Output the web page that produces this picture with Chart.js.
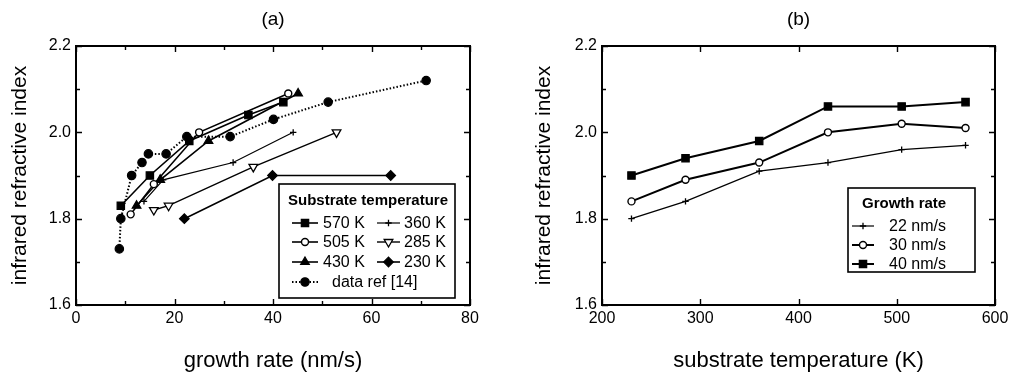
<!DOCTYPE html>
<html><head><meta charset="utf-8">
<script src="https://cdn.jsdelivr.net/npm/chart.js@4.4.1/dist/chart.umd.min.js"></script>
<style>
html,body{margin:0;padding:0;background:#fff;width:1013px;height:383px;overflow:hidden}
canvas{position:absolute;top:0}
#ca{left:0}
#cb{left:524px}
</style></head><body>
<canvas id="ca" width="524" height="383"></canvas>
<canvas id="cb" width="489" height="383"></canvas>
<script>
// ---------- Panel (a): refractive index vs growth rate ----------
const rate570 = [9.1, 15.0, 23.0, 35.0, 42.1];
const n570    = [1.83, 1.90, 1.98, 2.04, 2.07];
const rate505 = [11.1, 15.8, 25.0, 43.1];
const n505    = [1.81, 1.88, 2.00, 2.09];
const rate430 = [12.3, 17.1, 26.9, 45.1];
const n430    = [1.83, 1.89, 1.98, 2.09];
const rate360 = [13.8, 17.7, 31.9, 44.1];
const n360    = [1.84, 1.89, 1.93, 2.00];
const rate285 = [15.8, 18.8, 36.0, 52.9];
const n285    = [1.82, 1.83, 1.92, 2.00];
const rate230 = [22.0, 39.9, 63.9];
const n230    = [1.80, 1.90, 1.90];
const rateRef = [8.8, 9.1, 11.3, 13.4, 14.7, 18.3, 22.5, 31.3, 40.1, 51.2, 71.1];
const nRef    = [1.73, 1.80, 1.90, 1.93, 1.95, 1.95, 1.99, 1.99, 2.03, 2.07, 2.12];
const labelsA = ['570 K', '505 K', '430 K', '360 K', '285 K', '230 K', 'data ref [14]'];
const xMinorA = [10, 30, 50, 70];

// ---------- Panel (b): refractive index vs substrate temperature ----------
const temps = [230, 285, 360, 430, 505, 570];
const n22 = [1.80, 1.84, 1.91, 1.93, 1.96, 1.97];
const n30 = [1.84, 1.89, 1.93, 2.00, 2.02, 2.01];
const n40 = [1.90, 1.94, 1.98, 2.06, 2.06, 2.07];
const labelsB = ['22 nm/s', '30 nm/s', '40 nm/s'];
const yMinor = [1.7, 1.9, 2.1];

const FONT = "'Liberation Sans', Arial, Helvetica, sans-serif";
Chart.defaults.font.family = FONT;
Chart.defaults.color = '#000';

const pts = (xs, ys) => xs.map((x, i) => ({x, y: ys[i]}));

function ds(label, xs, ys, st) {
  return Object.assign({
    label, data: pts(xs, ys), showLine: true, fill: false, tension: 0,
    borderColor: '#000', borderWidth: 1.6,
    pointBorderColor: '#000', pointBackgroundColor: '#000', pointBorderWidth: 1.2,
    pointRadius: 4, pointHoverRadius: 4
  }, st);
}

function drawMarker(ctx, d, x, y) {
  ctx.save();
  ctx.fillStyle = d.pointBackgroundColor;
  ctx.strokeStyle = d.pointBorderColor;
  ctx.lineWidth = d.pointBorderWidth;
  const o = {pointStyle: d.pointStyle || 'circle', radius: d.pointRadius, rotation: d.pointRotation || 0, borderWidth: d.pointBorderWidth};
  if (Chart.helpers && Chart.helpers.drawPoint) {
    Chart.helpers.drawPoint(ctx, o, x, y);
  } else {
    ctx.beginPath(); ctx.arc(x, y, d.pointRadius, 0, Math.PI * 2); ctx.fill(); ctx.stroke();
  }
  ctx.restore();
}

const framePlugin = {
  id: 'frame',
  afterDatasetsDraw(chart, args, opts) {
    const {ctx, chartArea: a, scales} = chart;
    const xs = scales.x, ys = scales.y;
    ctx.save();
    ctx.strokeStyle = '#000';
    ctx.lineWidth = 1.4;
    const vx = (vals, len) => vals.forEach(v => {
      const p = Math.round(xs.getPixelForValue(v)) + 0.5;
      ctx.beginPath(); ctx.moveTo(p, a.bottom); ctx.lineTo(p, a.bottom - len);
      ctx.moveTo(p, a.top); ctx.lineTo(p, a.top + len); ctx.stroke();
    });
    const vy = (vals, len) => vals.forEach(v => {
      const p = Math.round(ys.getPixelForValue(v)) + 0.5;
      ctx.beginPath(); ctx.moveTo(a.left, p); ctx.lineTo(a.left + len, p);
      ctx.moveTo(a.right, p); ctx.lineTo(a.right - len, p); ctx.stroke();
    });
    vx(xs.ticks.map(t => t.value), 6);
    vy(ys.ticks.map(t => t.value), 6);
    vx(opts.xMinor || [], 4);
    vy(opts.yMinor || [], 4);
    ctx.lineWidth = 2;
    ctx.strokeRect(a.left, a.top, a.right - a.left, a.bottom - a.top);
    // panel title
    ctx.fillStyle = '#000';
    ctx.font = '19px ' + FONT;
    ctx.textAlign = 'center'; ctx.textBaseline = 'middle';
    ctx.fillText(opts.title, (a.left + a.right) / 2, 20);
    ctx.restore();
  }
};

const boxLegendPlugin = {
  id: 'boxLegend',
  afterDraw(chart, args, o) {
    const {ctx} = chart;
    ctx.save();
    ctx.fillStyle = '#fff';
    ctx.fillRect(o.box[0], o.box[1], o.box[2], o.box[3]);
    ctx.strokeStyle = '#000'; ctx.lineWidth = 1.6;
    ctx.strokeRect(o.box[0], o.box[1], o.box[2], o.box[3]);
    ctx.fillStyle = '#000';
    ctx.font = 'bold 15px ' + FONT;
    ctx.textAlign = 'left'; ctx.textBaseline = 'middle';
    ctx.fillText(o.title, o.titleX, o.titleY);
    ctx.font = '16px ' + FONT;
    o.items.forEach(it => {
      const d = chart.data.datasets[it.i];
      ctx.save();
      ctx.strokeStyle = d.borderColor; ctx.lineWidth = d.borderWidth;
      ctx.setLineDash(d.borderDash || []);
      ctx.beginPath(); ctx.moveTo(it.x0, it.y); ctx.lineTo(it.x1, it.y); ctx.stroke();
      ctx.restore();
      drawMarker(ctx, d, (it.x0 + it.x1) / 2, it.y);
      ctx.fillStyle = '#000';
      ctx.fillText(d.label, it.tx, it.y + 1);
    });
    ctx.restore();
  }
};

function scalesFor(xmin, xmax, xstep, yWidth, xTitle) {
  return {
    x: {
      type: 'linear', min: xmin, max: xmax,
      ticks: {stepSize: xstep, font: {size: 16}, color: '#000', padding: 4, maxRotation: 0},
      grid: {display: false, drawTicks: false}, border: {display: false},
      title: {display: true, text: xTitle, font: {size: 22}, color: '#000', padding: {top: 0, bottom: 9}},
      afterFit(s) { s.height = 78; }
    },
    y: {
      type: 'linear', min: 1.6, max: 2.2,
      ticks: {stepSize: 0.2, font: {size: 16}, color: '#000', padding: 5, callback: v => Number(v).toFixed(1)},
      grid: {display: false, drawTicks: false}, border: {display: false},
      title: {display: true, text: 'infrared refractive index', font: {size: 21}, color: '#000', padding: {top: 8, bottom: 0}},
      afterFit(s) { s.width = yWidth; }
    }
  };
}

const circOpen = {pointStyle: 'circle', pointBackgroundColor: '#fff', pointRadius: 3.5, pointBorderWidth: 1.4};

new Chart(document.getElementById('ca'), {
  type: 'scatter',
  data: {datasets: [
    ds(labelsA[0], rate570, n570, {pointStyle: 'rect', pointRadius: 5.2}),
    ds(labelsA[1], rate505, n505, circOpen),
    ds(labelsA[2], rate430, n430, {pointStyle: 'triangle', pointRadius: 5}),
    ds(labelsA[3], rate360, n360, {pointStyle: 'cross', pointRadius: 3.2, borderWidth: 1.2, pointBorderWidth: 1.3}),
    ds(labelsA[4], rate285, n285, {pointStyle: 'triangle', pointRotation: 180, pointBackgroundColor: '#fff', pointRadius: 5, pointBorderWidth: 1.3, borderWidth: 1.4}),
    ds(labelsA[5], rate230, n230, {pointStyle: 'rectRot', pointRadius: 4.8}),
    ds(labelsA[6], rateRef, nRef, {pointStyle: 'circle', pointRadius: 4.2, borderDash: [1.5, 2], borderWidth: 2})
  ]},
  options: {
    responsive: false, animation: false, events: [],
    layout: {padding: {left: 0, top: 46, right: 54, bottom: 0}},
    scales: scalesFor(0, 80, 20, 76, 'growth rate (nm/s)'),
    plugins: {
      legend: {display: false}, tooltip: {enabled: false},
      frame: {title: '(a)', xMinor: xMinorA, yMinor: yMinor},
      boxLegend: {
        box: [279, 184, 176, 114], title: 'Substrate temperature', titleX: 288, titleY: 201,
        items: [
          {i: 0, x0: 292, x1: 318, tx: 323, y: 223},
          {i: 1, x0: 292, x1: 318, tx: 323, y: 242},
          {i: 2, x0: 292, x1: 318, tx: 323, y: 262},
          {i: 3, x0: 377, x1: 400, tx: 404, y: 223},
          {i: 4, x0: 377, x1: 400, tx: 404, y: 242},
          {i: 5, x0: 377, x1: 400, tx: 404, y: 262},
          {i: 6, x0: 292, x1: 318, tx: 332, y: 282}
        ]
      }
    }
  },
  plugins: [framePlugin, boxLegendPlugin]
});

new Chart(document.getElementById('cb'), {
  type: 'scatter',
  data: {datasets: [
    ds(labelsB[0], temps, n22, {pointStyle: 'cross', pointRadius: 3.2, borderWidth: 1.2, pointBorderWidth: 1.3}),
    ds(labelsB[1], temps, n30, Object.assign({borderWidth: 2}, circOpen)),
    ds(labelsB[2], temps, n40, {pointStyle: 'rect', pointRadius: 5.2, borderWidth: 2})
  ]},
  options: {
    responsive: false, animation: false, events: [],
    layout: {padding: {left: 0, top: 46, right: 18, bottom: 0}},
    scales: scalesFor(200, 600, 100, 78, 'substrate temperature (K)'),
    plugins: {
      legend: {display: false}, tooltip: {enabled: false},
      frame: {title: '(b)', xMinor: [], yMinor: yMinor},
      boxLegend: {
        box: [324, 188, 127, 84], title: 'Growth rate', titleX: 338, titleY: 204,
        items: [
          {i: 0, x0: 328, x1: 350, tx: 365, y: 226},
          {i: 1, x0: 328, x1: 350, tx: 365, y: 245},
          {i: 2, x0: 328, x1: 350, tx: 365, y: 264}
        ]
      }
    }
  },
  plugins: [framePlugin, boxLegendPlugin]
});
</script>
</body></html>
